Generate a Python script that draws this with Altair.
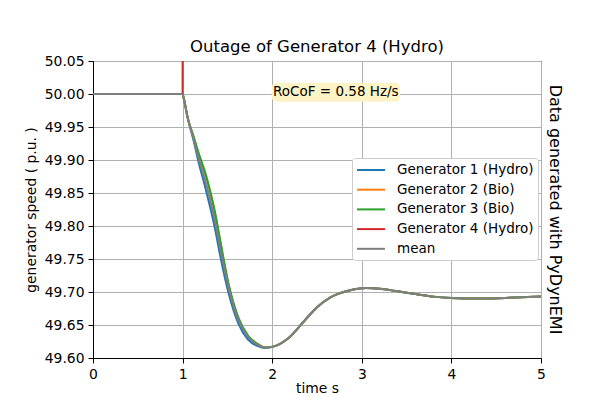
import altair as alt
import pandas as pd

TITLE = "Outage of Generator 4 (Hydro)"
X_TITLE = "time s"
Y_TITLE = "generator speed ( p.u. )"
SIDE_TEXT = "Data generated with PyDynEMI"
ANNOTATION = "RoCoF = 0.58 Hz/s"

series_names = ["Generator 1 (Hydro)", "Generator 2 (Bio)", "Generator 3 (Bio)",
                "Generator 4 (Hydro)", "mean"]
series_colors = ["#1f77b4", "#ff7f0e", "#2ca02c", "#d62728", "#7f7f7f"]

x_ticks = [0, 1, 2, 3, 4, 5]
y_ticks = [49.60, 49.65, 49.70, 49.75, 49.80, 49.85, 49.90, 49.95, 50.00, 50.05]

time_s = [0.0, 1.0, 1.01, 1.06, 1.12, 1.18, 1.25, 1.31, 1.36, 1.42, 1.51, 1.62,
          1.73, 1.84, 1.92, 2.03, 2.18, 2.37, 2.5, 2.65, 2.85, 3.05, 3.2, 3.4,
          3.6, 3.8, 4.0, 4.3, 4.6, 5.0]

gen1 = [50.0, 50.0, 49.995, 49.962, 49.931, 49.896, 49.860, 49.827, 49.797,
        49.755, 49.700, 49.653, 49.628, 49.618, 49.615, 49.618, 49.630, 49.658,
        49.677, 49.692, 49.702, 49.706, 49.705, 49.701, 49.697, 49.693, 49.691,
        49.690, 49.691, 49.693]
gen2 = [50.0, 50.0, 49.995, 49.962, 49.936, 49.908, 49.880, 49.850, 49.820,
        49.776, 49.713, 49.661, 49.633, 49.621, 49.616, 49.618, 49.630, 49.658,
        49.677, 49.692, 49.702, 49.706, 49.705, 49.701, 49.697, 49.693, 49.691,
        49.690, 49.691, 49.693]
gen3 = [50.0, 50.0, 49.995, 49.962, 49.937, 49.910, 49.882, 49.852, 49.822,
        49.778, 49.714, 49.662, 49.634, 49.621, 49.616, 49.618, 49.630, 49.658,
        49.677, 49.692, 49.702, 49.706, 49.705, 49.701, 49.697, 49.693, 49.691,
        49.690, 49.691, 49.693]
mean = [50.0, 50.0, 49.995, 49.962, 49.933, 49.902, 49.870, 49.838, 49.808,
        49.766, 49.708, 49.658, 49.632, 49.620, 49.616, 49.618, 49.630, 49.658,
        49.677, 49.692, 49.702, 49.706, 49.705, 49.701, 49.697, 49.693, 49.691,
        49.690, 49.691, 49.693]

time_g4 = [0.0, 1.0, 1.001, 5.0]
gen4 = [50.0, 50.0, 50.5, 52.0]

# annotation box (data units)
ann_box_t = [1.994, 3.426]
ann_box_v = [50.0171, 49.9883]
ann_text_pos = [2.71, 50.0024]

rows = []
for name, ts, vs in [(series_names[0], time_s, gen1),
                     (series_names[1], time_s, gen2),
                     (series_names[2], time_s, gen3),
                     (series_names[3], time_g4, gen4),
                     (series_names[4], time_s, mean)]:
    for i, (t, v) in enumerate(zip(ts, vs)):
        rows.append({"series": name, "t": t, "v": v, "idx": i})
df = pd.DataFrame(rows)

W, H = 448, 297
FONT = "DejaVu Sans"

x_scale = alt.Scale(domain=[0, 5], nice=False)
y_scale = alt.Scale(domain=[49.6, 50.05], nice=False, zero=False)
x_axis = alt.Axis(title=X_TITLE, values=x_ticks, format="d",
                  labelOverlap=False, labelFlush=False)
y_axis = alt.Axis(title=Y_TITLE, values=y_ticks, format=".2f",
                  labelOverlap=False, labelFlush=False, tickCount=len(y_ticks))

lines = alt.Chart(df).mark_line(strokeWidth=2, interpolate="monotone", clip=True).encode(
    x=alt.X("t:Q", scale=x_scale, axis=x_axis),
    y=alt.Y("v:Q", scale=y_scale, axis=y_axis),
    color=alt.Color("series:N",
                    scale=alt.Scale(domain=series_names, range=series_colors),
                    sort=series_names,
                    legend=alt.Legend(title=None, orient="none", legendX=259, legendY=97,
                                      symbolType="M-1,0H3", symbolSize=196,
                                      symbolStrokeWidth=2, labelFontSize=13.5,
                                      labelFont=FONT, labelColor="black",
                                      labelOffset=25, padding=4, rowPadding=4.7,
                                      fillColor="white", strokeColor="#cccccc",
                                      cornerRadius=3, labelLimit=300)),
    order="idx:Q",
)

ann_df = pd.DataFrame({"t0": [ann_box_t[0]], "t1": [ann_box_t[1]],
                       "v0": [ann_box_v[0]], "v1": [ann_box_v[1]],
                       "tt": [ann_text_pos[0]], "tv": [ann_text_pos[1]],
                       "label": [ANNOTATION]})
ann_rect = alt.Chart(ann_df).mark_rect(color="#fdf3c4", cornerRadius=5).encode(
    x=alt.X("t0:Q", scale=x_scale, axis=x_axis), x2="t1:Q",
    y=alt.Y("v0:Q", scale=y_scale, axis=y_axis), y2="v1:Q")
ann_text = alt.Chart(ann_df).mark_text(font=FONT, fontSize=13.5, color="black",
                                       baseline="middle", align="center").encode(
    x=alt.X("tt:Q", scale=x_scale, axis=x_axis),
    y=alt.Y("tv:Q", scale=y_scale, axis=y_axis), text="label:N")

side_df = pd.DataFrame({"label": [SIDE_TEXT]})
side_text = alt.Chart(side_df).mark_text(font=FONT, fontSize=16, angle=90, color="black",
                                         align="center", baseline="middle").encode(
    x=alt.value(W + 14), y=alt.value(H / 2), text="label:N")

chart = alt.layer(lines, ann_rect, ann_text, side_text).properties(
    width=W, height=H,
    title=alt.TitleParams(TITLE, font=FONT, fontSize=16.5, fontWeight="normal",
                          color="black", offset=-1),
    autosize=alt.AutoSizeParams(type="none"),
    padding={"left": 85, "top": 53, "right": 30, "bottom": 38},
).configure_view(stroke="black", strokeWidth=1).configure_axis(
    domainColor="black", tickColor="black", labelColor="black", titleColor="black",
    labelFont=FONT, titleFont=FONT, labelFontSize=13.9, titleFontSize=13.9,
    titleFontWeight="normal", gridColor="#b0b0b0", gridWidth=1, gridOpacity=1,
    tickSize=5, labelPadding=4, domainWidth=1, tickWidth=1,
).configure_axisX(titlePadding=1).configure_axisY(titlePadding=6)

chart.save("out.html", embed_options={"renderer": "svg", "actions": False})
